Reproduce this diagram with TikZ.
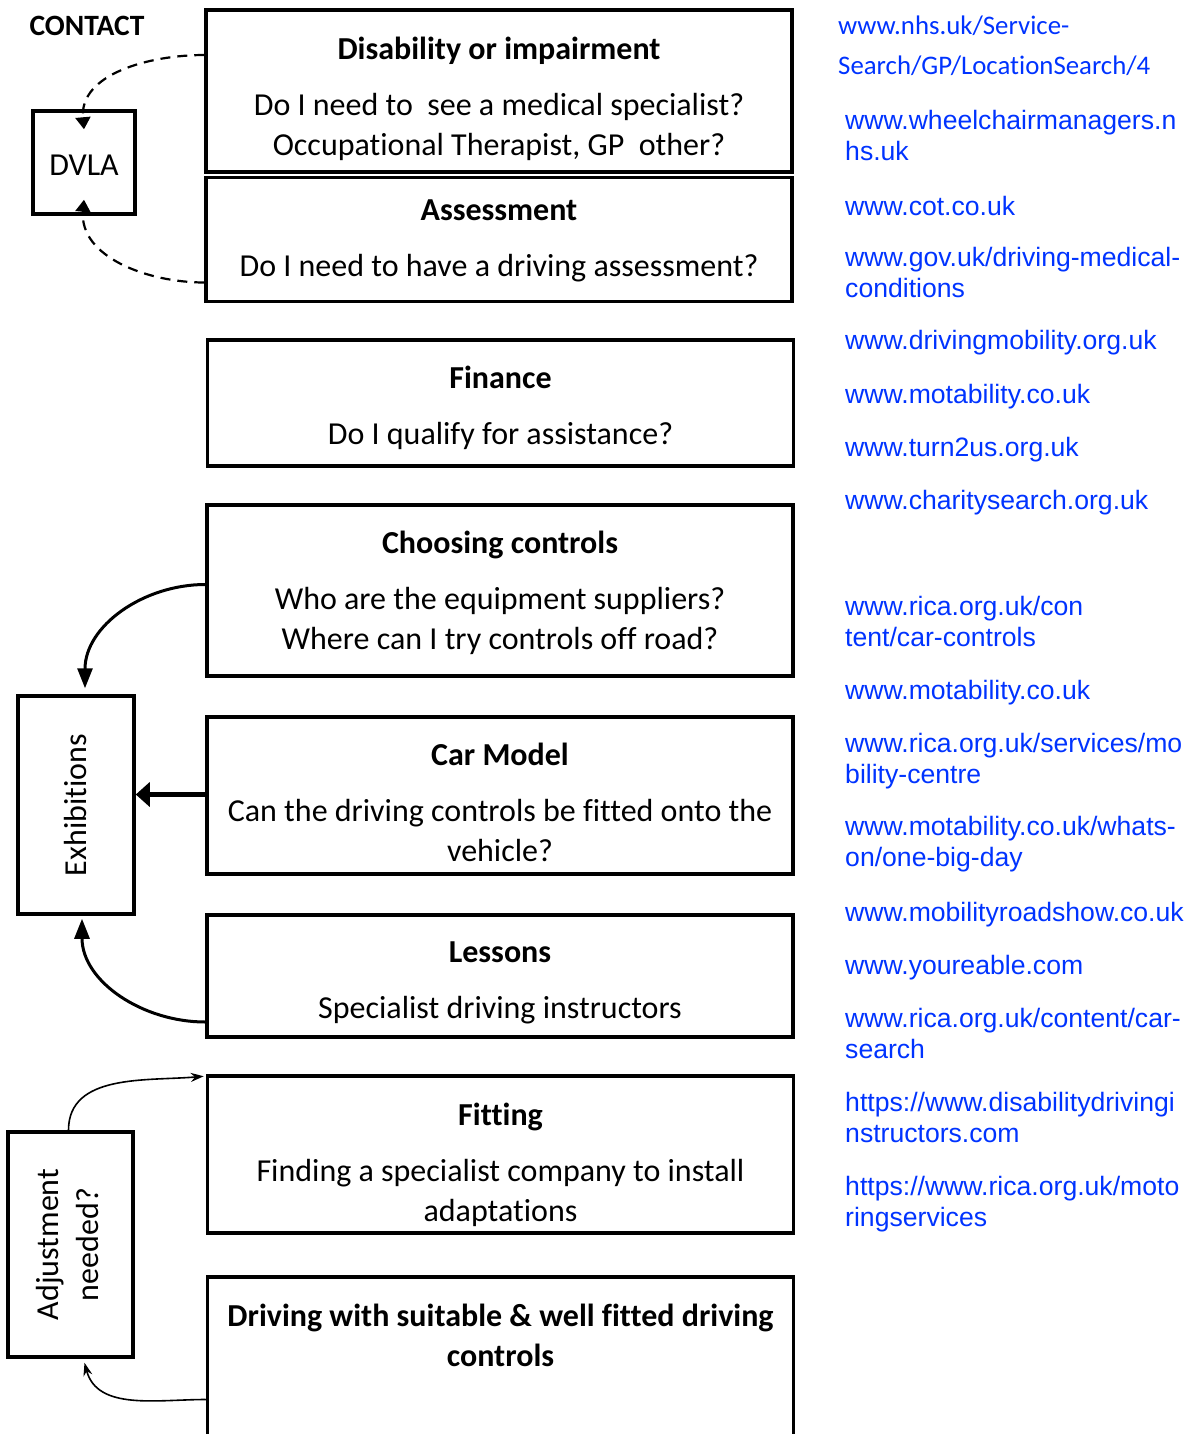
\documentclass[tikz,border=0pt]{standalone}
\usepackage{fontspec}
\setmainfont{Carlito}[Ligatures=NoCommon]
\newfontfamily\urlfont{Liberation Sans}
\usetikzlibrary{arrows.meta,positioning}
\definecolor{linkblue}{RGB}{0,51,255}
\newcommand{\boxfont}{\fontsize{32}{40}\selectfont}
\newcommand{\linkfont}{\urlfont\fontsize{26.6}{31}\selectfont}
\newcommand{\nhsfont}{\fontsize{26.8}{40}\selectfont}

\tikzset{
  box/.style={shape=rectangle,draw=black,line width=3.5pt,inner sep=0pt,minimum width=586pt},
  boxtext/.style={align=center,inner sep=0pt,font=\boxfont},
  sidebox/.style={shape=rectangle,draw=black,line width=3.5pt,inner sep=0pt,font=\boxfont},
  link/.style={anchor=west,align=left,inner sep=0pt,text=linkblue,font=\linkfont},
  dasharrow/.style={-{Triangle[length=12pt,width=15pt]},line width=2.2pt,dash pattern=on 10pt off 7pt},
  bigarrow/.style={-{Triangle[length=20pt,width=15pt]},line width=3pt},
  flatarrow/.style={-{Triangle[length=14pt,width=24pt]},line width=4.5pt},
  thinarrow/.style={-{Stealth[length=13pt,width=9pt]},line width=1.6pt}
}

\begin{document}
\begin{tikzpicture}[x=1pt,y=-1pt]
\clip (0,0) rectangle (1193,1434);

\node[font=\fontsize{29.5}{32}\selectfont\bfseries] (contact) at (87,26) {CONTACT};

% main column
\node[box,minimum height=162pt] (dis) at (499,91) {};
\node[box,minimum height=124pt] (ass) at (499,239.5) {};
\node[box,minimum height=126pt] (fin) at (500.5,403) {};
\node[box,minimum height=171pt] (choose) at (500,590.5) {};
\node[box,minimum height=157pt] (car) at (500,795.5) {};
\node[box,minimum height=122pt] (less) at (500,976) {};
\node[box,minimum height=157pt] (fit) at (500.5,1154.5) {};
\node[box,minimum height=173pt] (drive) at (500.5,1363.5) {};

\node[boxtext,below=23pt of dis.north] (distext) {\strut\textbf{Disability or impairment}\\[16pt]Do I need to\ \ see a medical specialist?\\Occupational Therapist, GP\ \ other?};
\node[boxtext,below=16.5pt of ass.north] (asstext) {\strut\textbf{Assessment}\\[16pt]Do I need to have a driving assessment?};
\node[boxtext,below=22pt of fin.north] (fintext) {\strut\textbf{Finance}\\[16pt]Do I qualify for assistance?};
\node[boxtext,below=22pt of choose.north] (choosetext) {\strut\textbf{Choosing controls}\\[16pt]Who are the equipment suppliers?\\Where can I try controls off road?};
\node[boxtext,below=22pt of car.north] (cartext) {\strut\textbf{Car Model}\\[16pt]Can the driving controls be fitted onto the\\vehicle?};
\node[boxtext,below=21.5pt of less.north] (lesstext) {\strut\textbf{Lessons}\\[16pt]Specialist driving instructors};
\node[boxtext,below=23pt of fit.north] (fittext) {\strut\textbf{Fitting}\\[16pt]Finding a specialist company to install\\adaptations};
\node[boxtext,below=23pt of drive.north] (drivetext) {\strut\textbf{Driving with suitable \& well fitted driving}\\\textbf{controls}};

% side boxes
\node[sidebox,minimum width=102pt,minimum height=103pt] (dvla) at (84,162.5) {\raisebox{-3pt}[\height][\depth]{DVLA}};
\node[sidebox,minimum width=116pt,minimum height=218pt] (exhib) at (76,805) {\rotatebox{90}{Exhibitions}};
\node[sidebox,minimum width=125pt,minimum height=225pt] (adjust) at (70.5,1244.5) {\rotatebox{90}{\begin{tabular}{@{}c@{}}Adjustment\\needed?\end{tabular}}};

% connectors
\path [dasharrow] ([yshift=36pt]dis.west) edge[out=180,in=95] ([yshift=-20pt]dvla.north);
\path [dasharrow] ([yshift=-43pt]ass.west) edge[out=180,in=-95] ([yshift=16pt]dvla.south);
\path [bigarrow] ([yshift=6pt]choose.west) edge[out=180,in=90] ([xshift=9pt,yshift=6pt]exhib.north);
\path [flatarrow] ([yshift=1pt]car.west) edge ([yshift=1pt]car.west -| exhib.east);
\path [bigarrow] ([yshift=-46pt]less.west) edge[out=180,in=-90] ([xshift=6pt,yshift=-3pt]exhib.south);
\path [thinarrow] ([xshift=-2pt]adjust.north) edge[out=90,in=185] ([xshift=-2pt,yshift=-2pt]fit.north west);
\path [thinarrow] ([yshift=-36pt]drive.west) edge[out=180,in=-75] ([xshift=14pt,yshift=-4pt]adjust.south);

% links
\node[link,font=\nhsfont] (l1) at (838,46) {www.nhs.uk/Service-\\Search/GP/LocationSearch/4};
\node[link] (l2) at (845,135.5) {www.wheelchairmanagers.n\\hs.uk};
\node[link] (l3) at (845,206) {www.cot.co.uk};
\node[link] (l4) at (845,272) {www.gov.uk/driving-medical-\\conditions};
\node[link] (l5) at (845,343) {www.drivingmobility.org.uk};
\node[link] (l6) at (845,397) {www.motability.co.uk};
\node[link] (l7) at (845,450) {www.turn2us.org.uk};
\node[link] (l8) at (845,503) {www.charitysearch.org.uk};
\node[link] (l9) at (845,621.5) {www.rica.org.uk/con\\tent/car-controls};
\node[link] (l10) at (845,693) {www.motability.co.uk};
\node[link] (l11) at (845,761.5) {www.rica.org.uk/services/mo\\bility-centre};
\node[link] (l12) at (845,844.5) {www.motability.co.uk/whats-\\on/one-big-day};
\node[link] (l13) at (845,915) {www.mobilityroadshow.co.uk};
\node[link] (l14) at (845,968) {www.youreable.com};
\node[link] (l15) at (845,1033.5) {www.rica.org.uk/content/car-\\search};
\node[link] (l16) at (845,1117.5) {https://www.disabilitydrivingi\\nstructors.com};
\node[link] (l17) at (845,1204.5) {https://www.rica.org.uk/moto\\ringservices};
\end{tikzpicture}
\end{document}
